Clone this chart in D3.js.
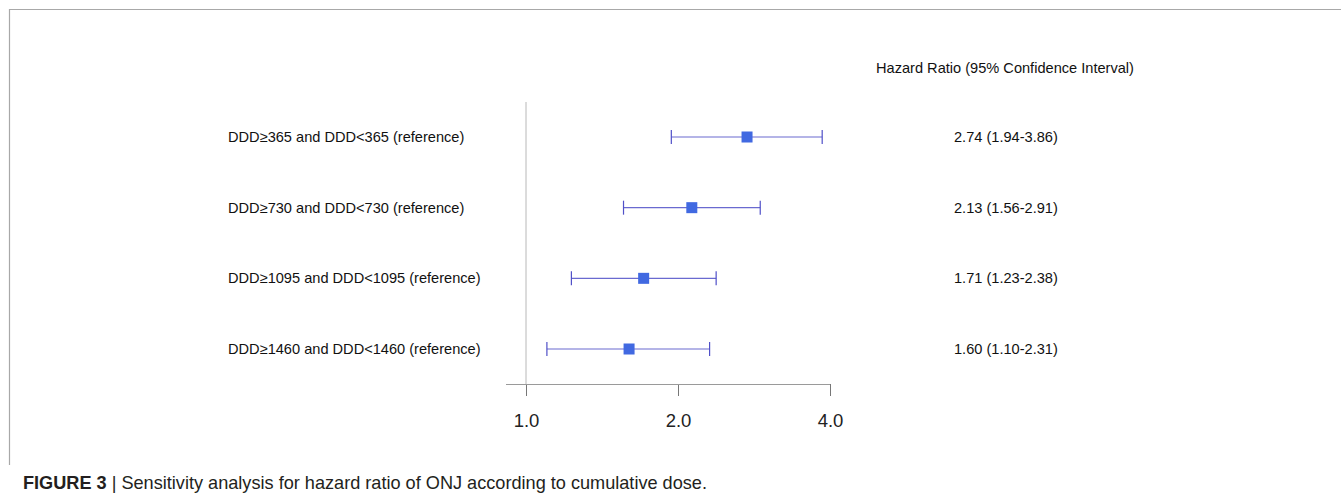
<!DOCTYPE html>
<html>
<head>
<meta charset="utf-8">
<script src="https://cdn.jsdelivr.net/npm/d3@7"></script>
<style>
  html, body { margin: 0; padding: 0; background: #fff; }
  svg { display: block; }
  text { font-family: "Liberation Sans", Arial, sans-serif; }
</style>
</head>
<body>
<svg id="chart" width="1341" height="496"></svg>
<script>
// ---- data ----
const categories = [
  "DDD\u2265365 and DDD<365 (reference)",
  "DDD\u2265730 and DDD<730 (reference)",
  "DDD\u22651095 and DDD<1095 (reference)",
  "DDD\u22651460 and DDD<1460 (reference)"
];
const hazardRatio = [2.74, 2.13, 1.71, 1.60];
const lowerCI = [1.94, 1.56, 1.23, 1.10];
const upperCI = [3.86, 2.91, 2.38, 2.31];
const tickValues = [1, 2, 4];
const tickLabels = ["1.0", "2.0", "4.0"];
const headerText = "Hazard Ratio (95% Confidence Interval)";
const captionBold = "FIGURE 3";
const captionRest = " | Sensitivity analysis for hazard ratio of ONJ according to cumulative dose.";

// ---- drawing ----
const svg = d3.select("#chart");

// frame
svg.append("path")
  .attr("d", "M9.5,465 V9.5 H1341")
  .attr("fill", "none").attr("stroke", "#a8a8a8").attr("stroke-width", 1.2);

const x = d3.scaleLog().base(2).domain([1, 4]).range([526, 830]);
const y = d3.scalePoint().domain(categories).range([137, 349]);

// reference vertical line at HR = 1
svg.append("line")
  .attr("x1", x(1)).attr("x2", x(1))
  .attr("y1", 102).attr("y2", 384)
  .attr("stroke", "#b8b8b8").attr("stroke-width", 1);

// axis
const axisG = svg.append("g").attr("transform", "translate(0,384)");
axisG.call(d3.axisBottom(x).tickValues(tickValues)
  .tickFormat((d, i) => tickLabels[i]).tickSize(12).tickSizeOuter(0));
axisG.select(".domain").remove();
axisG.append("line")
  .attr("x1", x(1) - 20).attr("x2", x(4))
  .attr("y1", 0.5).attr("y2", 0.5)
  .attr("stroke", "#9a9a9a").attr("stroke-width", 1.2);
axisG.selectAll(".tick line").attr("stroke", "#777").attr("stroke-width", 1);
axisG.selectAll(".tick text")
  .attr("font-family", "'Liberation Sans', Arial, sans-serif")
  .attr("font-size", 18.5).attr("fill", "#222")
  .attr("y", 30).attr("dy", "0.71em");

// rows
const rows = categories.map((c, i) => ({ c, hr: hazardRatio[i], lo: lowerCI[i], hi: upperCI[i] }));
const rg = svg.append("g").selectAll("g").data(rows).join("g");

rg.append("text")
  .attr("x", 228).attr("y", d => y(d.c)).attr("dy", "0.35em")
  .attr("font-size", 14.6).attr("fill", "#111")
  .text(d => d.c);

rg.append("line")
  .attr("x1", d => x(d.lo)).attr("x2", d => x(d.hi))
  .attr("y1", d => y(d.c)).attr("y2", d => y(d.c))
  .attr("stroke", "#6a6ad0").attr("stroke-width", 1.2);
rg.selectAll("line.cap").data(d => [[d.lo, d.c], [d.hi, d.c]]).join("line")
  .attr("class", "cap")
  .attr("x1", d => x(d[0])).attr("x2", d => x(d[0]))
  .attr("y1", d => y(d[1]) - 7).attr("y2", d => y(d[1]) + 7)
  .attr("stroke", "#5050c8").attr("stroke-width", 1.2);
rg.append("rect")
  .attr("x", d => x(d.hr) - 5.5).attr("y", d => y(d.c) - 5.5)
  .attr("width", 11).attr("height", 11)
  .attr("fill", "#4169E1");

rg.append("text")
  .attr("x", 954).attr("y", d => y(d.c)).attr("dy", "0.35em")
  .attr("font-size", 14.6).attr("fill", "#111")
  .text(d => `${d.hr.toFixed(2)} (${d.lo.toFixed(2)}-${d.hi.toFixed(2)})`);

svg.append("text")
  .attr("x", 876).attr("y", 68).attr("dy", "0.35em")
  .attr("font-size", 14.6).attr("fill", "#111")
  .text(headerText);

// caption
const cap = svg.append("text")
  .attr("x", 23).attr("y", 489)
  .attr("font-size", 18.5).attr("fill", "#231f20");
cap.append("tspan").attr("font-weight", "bold").text(captionBold);
cap.append("tspan").text(captionRest);
cap.attr("textLength", 684).attr("lengthAdjust", "spacingAndGlyphs");
</script>
</body>
</html>
